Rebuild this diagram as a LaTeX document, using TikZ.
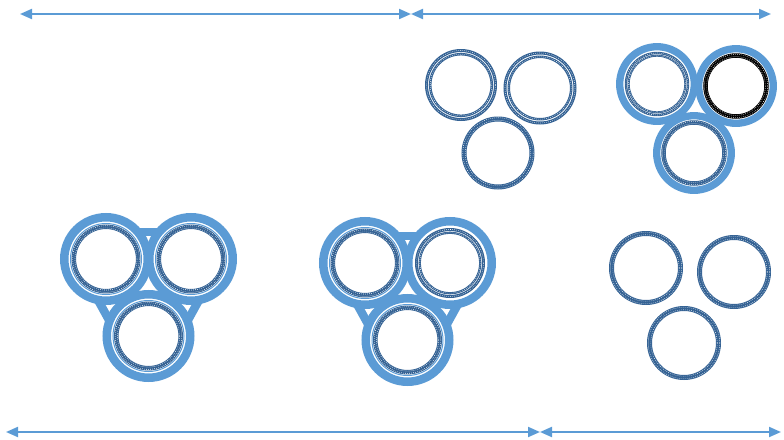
\documentclass[tikz,border=0pt]{standalone}
\usetikzlibrary{arrows.meta,calc}
\definecolor{lanse}{RGB}{91,155,213}
\definecolor{shenlan}{RGB}{52,98,148}
% 芯线：深蓝粗圆环 + 白色细点（网纹）
\newcommand\xian[4][shenlan]{% #2 圆心, #3 半径(px), #4 线宽(px)
  \pgfmathsetmacro\xa{#3-#4/4}\pgfmathsetmacro\xb{#3+#4/4}%
  \draw[#1,line width=#4*0.5pt] (#2) circle[radius=#3];
  \ifdim#4pt<3.5pt \draw[speck] (#2) circle[radius=#3];
  \else \draw[speck] (#2) circle[radius=\xa]; \draw[speck] (#2) circle[radius=\xb];\fi}
% 护套之间的连接带（外侧，转角 40 度）
\newcommand\qiao[3]{\draw[band] ($(#1)!#3*0.5pt!40:(#2)$) -- ($(#2)!#3*0.5pt!-40:(#1)$);}
\begin{document}
\begin{tikzpicture}[x=0.5pt,y=-0.5pt,line cap=butt,line join=miter,
    band/.style={draw=lanse,line width=4.25pt},
    sband/.style={draw=lanse,line width=3.65pt},
    thin/.style={draw=lanse,line width=0.5pt},
    speck/.style={draw=white,line width=0.3pt,dash pattern=on 0.3pt off 0.7pt},
    span/.style={draw=lanse,line width=1pt,{Triangle[length=6pt,width=5pt]}-{Triangle[length=6pt,width=5pt]}}]
% ---- 坐标（px，原点=位图左上角，y 向下） ----
\coordinate (A1) at (461,85);\coordinate (A2) at (540,88);\coordinate (A3) at (498,153);
\coordinate (B1) at (657,84);\coordinate (B2) at (736,86);\coordinate (B3) at (694,153);
\coordinate (C1) at (106,259);\coordinate (C2) at (191,259);\coordinate (C3) at (148.5,336);
\coordinate (D1) at (365,263);\coordinate (D2) at (450,263);\coordinate (D3) at (407.5,340);
\coordinate (E1) at (646,268);\coordinate (E2) at (734,272);\coordinate (E3) at (684,343);
% ---- 尺寸箭头 ----
\coordinate (ta) at (20,14);\coordinate (tb) at (411,14);\coordinate (tc) at (771,14);
\coordinate (ba) at (6,432);\coordinate (bb) at (540,432);\coordinate (bc) at (781,432);
\draw[span] (ta) -- (tb);
\draw[span] (tb) -- (tc);
\draw[span] (ba) -- (bb);
\draw[span] (bb) -- (bc);
% ---- 上中：三根裸芯（前两根为双层） ----
\xian{A1}{34.5}{3}\xian{A1}{30.8}{2.5}
\xian{A2}{35}{3}\xian{A2}{31.2}{2.5}
\xian{A3}{34}{5}
% ---- 右上：三根带护套，右芯为黑色 ----
\foreach \c in {B1,B2,B3} \draw[sband] (\c) circle[radius=37.3];
\xian{B1}{31}{2.4}\xian{B1}{28.3}{2}
\xian[black]{B2}{30.5}{4.5}
\xian{B3}{30.5}{4.5}
% ---- 左下：护套 + 连接带 ----
\foreach \c in {C1,C2,C3} \draw[band] (\c) circle[radius=41.75];
\qiao{C1}{C2}{41.75}\qiao{C2}{C3}{41.75}\qiao{C3}{C1}{41.75}
\foreach \c in {C1,C2,C3} {\draw[thin] (\c) circle[radius=35.5]; \xian{\c}{32.2}{4.5}}
% ---- 中下：同上，右上芯为双层 ----
\foreach \c in {D1,D2,D3} \draw[band] (\c) circle[radius=41.75];
\qiao{D1}{D2}{41.75}\qiao{D2}{D3}{41.75}\qiao{D3}{D1}{41.75}
\foreach \c in {D1,D3} {\draw[thin] (\c) circle[radius=35.5]; \xian{\c}{32.2}{4.5}}
\xian{D2}{33.5}{3}\xian{D2}{30.2}{2.2}
% ---- 右下：三根裸芯 ----
\foreach \c in {E1,E2,E3} \xian{\c}{34.5}{5};
% ---- 外框＝源位图 784x440px ----
\pgfresetboundingbox
\path[use as bounding box] (0,0) rectangle (784,440);
\end{tikzpicture}
\end{document}
